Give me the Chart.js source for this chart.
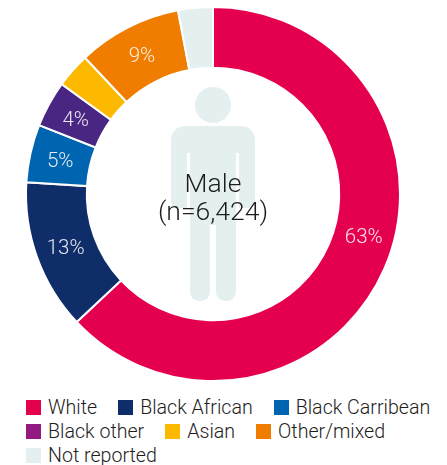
<!DOCTYPE html>
<html><head><meta charset="utf-8">
<script src="https://cdn.jsdelivr.net/npm/chart.js@4"></script>
<style>
html,body{margin:0;padding:0;background:#fff;width:447px;height:465px;overflow:hidden}
#wrap{position:absolute;left:0;top:0;width:447px;height:388px}
#legend{position:absolute;left:26px;top:395px;width:421px;display:flex;flex-wrap:wrap;column-gap:21px;font:300 19.6px Roboto,sans-serif;color:#1d1d1b}
#legend div{display:flex;align-items:center;height:24px;white-space:nowrap}
#legend i{display:inline-block;width:15px;height:15px;margin-right:7px}
</style></head><body>
<div id="wrap"><canvas id="c" width="447" height="388"></canvas></div>
<div id="legend"></div>
<script>
const categories = ["White","Black African","Black Carribean","Black other","Asian","Other/mixed","Not reported"];
const values = [63,13,5,4,3,9,3];
const shownLabels = ["63%","13%","5%","4%","","9%",""];
const labelAlong = [0.466,0.5,0.5,0.5,0.5,0.5,0.5];
const sliceColors = ["#E5004F","#0F2D69","#0065B0","#4A2683","#FDB900","#F07D00","#E4F0F0"];
const legendColors = ["#E5004F","#0F2D69","#0065B0","#921A80","#FDB900","#F07D00","#E4F0F0"];
const centerLines = ["Male","(n=6,424)"];

const legend = document.getElementById('legend');
categories.forEach((name,i)=>{
  const d=document.createElement('div');
  const b=document.createElement('i'); b.style.background=legendColors[i];
  d.appendChild(b); d.appendChild(document.createTextNode(name));
  legend.appendChild(d);
});

const figure = {
  id:'figure',
  beforeDatasetsDraw(chart){
    const arc=chart.getDatasetMeta(0).data[0];
    const cx=arc.x, cy=arc.y, ctx=chart.ctx;
    ctx.save();
    ctx.fillStyle='#E4F0F0';
    ctx.beginPath(); ctx.arc(cx,cy-89,18,0,Math.PI*2); ctx.fill();
    ctx.beginPath();
    ctx.roundRect(cx-42,cy-68,84,82,[14,14,7,7]);
    ctx.fill();
    ctx.beginPath(); ctx.roundRect(cx-23,cy-10,20,117,[0,0,9,9]); ctx.fill();
    ctx.beginPath(); ctx.roundRect(cx+3,cy-10,20,117,[0,0,9,9]); ctx.fill();
    ctx.fillRect(cx-23,cy-41,46,72);
    ctx.fillStyle='#fff';
    ctx.fillRect(cx-26,cy-41,3,55);
    ctx.fillRect(cx+23,cy-41,3,55);
    ctx.restore();
  },
  afterDatasetsDraw(chart){
    const meta=chart.getDatasetMeta(0), ctx=chart.ctx;
    ctx.save();
    ctx.textAlign='center'; ctx.textBaseline='middle';
    ctx.font='300 20.5px Roboto,sans-serif';
    ctx.fillStyle='rgba(255,255,255,0.88)';
    meta.data.forEach((a,i)=>{
      if(!shownLabels[i]) return;
      const t=a.startAngle+(a.endAngle-a.startAngle)*labelAlong[i];
      const r=(a.innerRadius+a.outerRadius)/2;
      ctx.fillText(shownLabels[i],a.x+Math.cos(t)*r,a.y+Math.sin(t)*r+2);
    });
    const a=meta.data[0];
    ctx.font='300 26.5px Roboto,sans-serif';
    ctx.fillStyle='#1d1d1b';
    ctx.fillText(centerLines[0],a.x,a.y-9);
    ctx.fillText(centerLines[1],a.x,a.y+19);
    ctx.restore();
  }
};

new Chart(document.getElementById('c'),{
  type:'doughnut',
  data:{labels:categories,datasets:[{data:values,backgroundColor:sliceColors,borderColor:'#fff',borderWidth:2,borderJoinStyle:'miter'}]},
  options:{
    responsive:false,animation:false,cutout:'67.5%',
    layout:{padding:{left:25,right:46,top:6,bottom:6}},
    plugins:{legend:{display:false},tooltip:{enabled:false},title:{display:false}}
  },
  plugins:[figure]
});
</script></body></html>
